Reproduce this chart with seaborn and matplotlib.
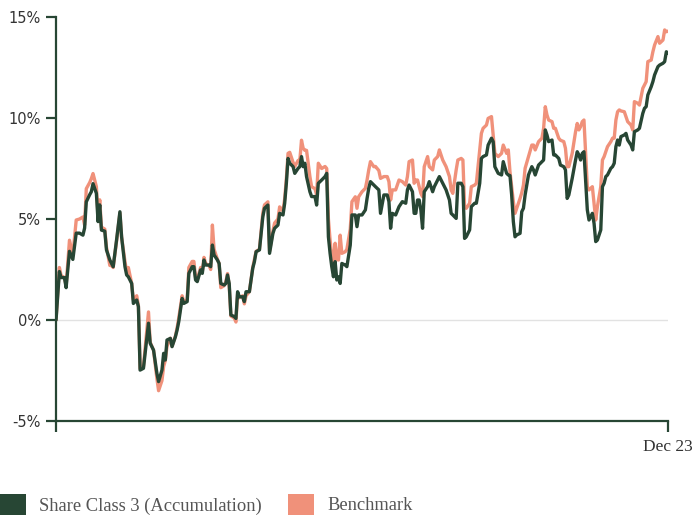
import matplotlib
matplotlib.use("Agg")
import matplotlib.pyplot as plt
from matplotlib.patches import Patch
import numpy as np
import pandas as pd
import seaborn as sns

# Cumulative performance (%) over 2023, sampled on calendar-day offsets from the start date
start_date = "2022-12-30"
day_offset = [
    0, 2, 3, 5, 6, 8, 10, 12, 14, 16, 17, 18, 20, 21, 22, 24, 25, 26, 27, 29,
    30, 32, 33, 34, 36, 38, 39, 41, 42, 43, 45, 46, 48, 49, 50, 52, 55, 56, 58, 60,
    61, 63, 64, 65, 66, 68, 69, 71, 72, 73, 75, 76, 78, 79, 81, 82, 83, 84, 86, 87,
    88, 89, 91, 92, 93, 94, 96, 97, 98, 100, 101, 102, 103, 104, 106, 107, 108, 109, 111, 112,
    113, 115, 117, 118, 119, 121, 123, 124, 126, 127, 129, 130, 132, 133, 135, 136, 137, 138, 139, 141,
    142, 144, 145, 146, 147, 148, 149, 151, 152, 154, 155, 156, 158, 160, 161, 162, 163, 164, 165, 166,
    167, 168, 169, 170, 172, 173, 175, 176, 178, 179, 180, 182, 184, 185, 186, 187, 189, 190, 191, 192,
    193, 195, 197, 198, 199, 200, 202, 204, 206, 208, 209, 210, 212, 213, 214, 215, 216, 217, 218, 219,
    221, 222, 224, 225, 227, 228, 230, 232, 234, 235, 236, 238, 239, 241, 242, 243, 244, 246, 247, 249,
    250, 252, 253, 254, 256, 257, 259, 260, 261, 263, 265, 266, 268, 269, 270, 271, 272, 273, 274, 276,
    277, 278, 279, 280, 281, 283, 284, 285, 287, 289, 290, 291, 292, 293, 295, 296, 297, 299, 300, 302,
    303, 304, 305, 307, 309, 310, 311, 312, 313, 314, 315, 316, 317, 319, 320, 321, 322, 324, 325, 326,
    327, 328, 330, 331, 332, 333, 334, 335, 336, 338, 339, 340, 342, 343, 344, 346, 347, 349, 350, 351,
    352, 354, 355, 356, 358, 359, 361, 362, 363, 364,
]
share_class = [
    0.00, 2.40, 2.10, 2.10, 1.60, 3.40, 3.00, 4.30, 4.30, 4.20, 4.55, 5.85, 6.20, 6.35, 6.75, 6.27, 4.87, 5.70, 4.45, 4.40,
    3.47, 2.97, 2.80, 2.64, 3.96, 5.36, 4.12, 2.64, 2.23, 2.14, 1.81, 0.82, 0.99, 0.66, -2.48, -2.39, -0.16, -1.15, -1.49, -2.64,
    -3.05, -2.48, -1.65, -1.98, -0.99, -0.91, -1.32, -0.83, -0.50, -0.08, 1.07, 0.82, 0.91, 2.31, 2.64, 2.64, 1.98, 1.90, 2.48, 2.31,
    2.97, 2.72, 2.72, 2.64, 3.71, 3.22, 2.97, 2.80, 1.81, 1.73, 1.81, 2.23, 1.81, 0.25, 0.17, 0.08, 1.40, 1.15, 1.15, 0.91,
    1.40, 1.40, 2.56, 2.89, 3.38, 3.47, 5.11, 5.53, 5.69, 3.30, 4.29, 4.54, 4.70, 5.28, 5.20, 5.78, 6.77, 8.00, 7.76, 7.59,
    7.26, 7.51, 7.59, 8.09, 7.59, 7.76, 7.10, 6.35, 6.11, 6.11, 5.69, 6.77, 6.93, 7.10, 7.26, 4.12, 3.30, 2.64, 2.14, 2.89,
    1.98, 2.14, 1.81, 2.80, 2.72, 2.64, 3.71, 5.20, 5.20, 4.62, 5.20, 5.20, 5.45, 6.02, 6.52, 6.85, 6.68, 6.60, 6.52, 6.44,
    5.28, 6.19, 6.19, 5.86, 4.54, 5.28, 5.20, 5.61, 5.86, 5.78, 6.44, 6.68, 6.35, 5.28, 5.28, 5.94, 5.94, 5.45, 4.54, 6.35,
    6.60, 6.85, 6.35, 6.60, 6.93, 7.10, 6.77, 6.44, 5.94, 5.28, 5.20, 5.03, 6.77, 6.77, 6.60, 4.04, 4.12, 4.46, 5.61, 5.78,
    5.78, 6.77, 8.00, 8.09, 8.17, 8.66, 9.00, 8.83, 7.59, 7.26, 7.18, 7.84, 7.26, 7.18, 7.15, 6.19, 4.87, 4.12, 4.21, 4.29,
    5.36, 5.53, 6.19, 6.68, 7.18, 7.59, 7.43, 7.18, 7.67, 7.84, 7.92, 9.41, 9.16, 8.83, 8.91, 8.17, 8.17, 8.00, 7.67, 7.59,
    7.43, 6.02, 6.19, 7.01, 7.92, 8.33, 8.17, 7.92, 8.25, 8.33, 6.93, 5.45, 4.95, 5.28, 4.79, 3.88, 3.96, 4.46, 6.60, 6.77,
    7.10, 7.18, 7.51, 7.59, 7.76, 8.58, 8.91, 8.66, 9.08, 9.16, 9.24, 8.91, 8.66, 8.42, 9.32, 9.41, 9.49, 10.23, 10.48, 10.56,
    11.14, 11.55, 11.80, 12.13, 12.54, 12.62, 12.71, 12.79, 13.28, 13.20,
]
benchmark = [
    0.00, 2.60, 2.20, 2.10, 1.70, 3.95, 3.20, 4.95, 5.00, 5.10, 4.70, 6.50, 6.80, 7.00, 7.25, 6.60, 5.10, 5.95, 4.60, 4.50,
    3.60, 2.70, 2.70, 2.60, 3.90, 5.30, 4.10, 2.90, 2.40, 2.60, 1.80, 1.00, 1.20, 0.70, -2.40, -2.30, 0.40, -1.10, -1.50, -2.90,
    -3.50, -3.00, -2.30, -2.00, -1.30, -0.90, -1.30, -0.80, -0.40, 0.10, 1.20, 0.90, 1.00, 2.60, 2.90, 2.90, 2.10, 2.00, 2.60, 2.40,
    3.10, 2.80, 2.70, 2.50, 4.70, 3.50, 3.00, 2.80, 1.60, 1.70, 1.90, 2.30, 1.70, 0.20, 0.10, -0.10, 1.30, 1.10, 1.20, 0.80,
    1.20, 1.40, 2.60, 3.00, 3.40, 3.50, 5.30, 5.70, 5.85, 3.40, 4.40, 4.80, 5.00, 5.60, 5.40, 6.00, 7.00, 8.25, 8.30, 7.80,
    7.60, 7.90, 7.90, 8.90, 8.50, 8.40, 8.40, 7.10, 6.60, 6.50, 6.20, 7.76, 7.50, 7.60, 7.50, 5.00, 3.96, 3.20, 2.80, 3.80,
    3.00, 2.97, 4.20, 3.30, 3.38, 3.50, 4.50, 5.86, 6.10, 5.53, 6.10, 6.35, 6.52, 6.93, 7.43, 7.84, 7.59, 7.60, 7.50, 7.40,
    7.01, 7.10, 7.10, 6.85, 5.94, 6.44, 6.44, 6.93, 6.85, 6.68, 7.10, 7.84, 7.92, 6.77, 6.93, 6.93, 6.60, 6.27, 6.11, 7.59,
    8.09, 7.59, 7.43, 7.92, 8.09, 8.42, 7.92, 7.59, 7.10, 6.44, 6.27, 7.43, 7.92, 8.00, 7.92, 5.61, 5.53, 5.78, 6.60, 6.68,
    6.77, 8.42, 9.24, 9.49, 9.65, 9.98, 10.07, 9.16, 8.25, 8.09, 8.25, 8.66, 8.25, 8.42, 7.34, 6.60, 5.86, 5.28, 5.53, 6.02,
    6.30, 6.68, 7.51, 7.80, 8.09, 8.66, 8.66, 8.42, 8.83, 9.00, 9.49, 10.56, 10.15, 9.90, 9.82, 9.49, 9.49, 9.00, 8.90, 8.83,
    8.50, 7.59, 7.59, 8.25, 9.32, 9.73, 9.41, 9.57, 9.82, 9.90, 8.25, 6.60, 6.44, 6.60, 5.78, 4.95, 5.61, 6.60, 7.92, 8.09,
    8.33, 8.58, 8.83, 9.00, 9.00, 9.90, 10.31, 10.40, 10.35, 10.31, 10.07, 9.82, 9.65, 9.41, 10.81, 10.73, 10.64, 11.47, 11.63, 11.80,
    12.79, 12.87, 13.28, 13.61, 14.03, 13.70, 13.86, 14.36, 14.27, 14.30,
]

series_names = ["Share Class 3 (Accumulation)", "Benchmark"]
series_colors = ["#274634", "#f0917a"]
y_ticks = [-5, 0, 5, 10, 15]
x_tick_labels = ["", "Dec 23"]

dates = pd.Timestamp(start_date) + pd.to_timedelta(day_offset, unit="D")
df = pd.concat([
    pd.DataFrame({"date": dates, "return": share_class, "series": series_names[0]}),
    pd.DataFrame({"date": dates, "return": benchmark, "series": series_names[1]}),
])

sns.set_theme(style="white")
plt.rcParams["font.family"] = ["DejaVu Sans"]

fig = plt.figure(figsize=(6.96, 5.15), dpi=100)
ax = fig.add_axes([0.0805, 0.1825, 0.8793, 0.7845])

# benchmark first so the fund line sits on top
sns.lineplot(
    data=df, x="date", y="return", hue="series",
    hue_order=[series_names[1], series_names[0]],
    palette={series_names[0]: series_colors[0], series_names[1]: series_colors[1]},
    linewidth=2.4, legend=False, ax=ax,
)

ax.axhline(0, color="#e2e2e2", linewidth=1.0, zorder=0)

ax.set_ylim(-5, 15)
ax.set_xlim(dates[0], dates[-1])
ax.set_yticks(y_ticks)
ax.set_yticklabels([f"{v}%" for v in y_ticks], fontsize=10.5, color="#333333")
ax.set_xticks([dates[0], dates[-1]])
ax.set_xticklabels(x_tick_labels, fontsize=12.5, color="#333333", family="Liberation Serif")
ax.set_xlabel("")
ax.set_ylabel("")

for side in ["top", "right"]:
    ax.spines[side].set_visible(False)
for side in ["left", "bottom"]:
    ax.spines[side].set_color(series_colors[0])
    ax.spines[side].set_linewidth(1.6)
ax.tick_params(axis="y", length=7, width=1.6, color=series_colors[0], pad=4, left=True)
ax.tick_params(axis="x", length=8, width=1.6, color=series_colors[0], pad=5, bottom=True)

handles = [Patch(facecolor=c, edgecolor="none") for c in series_colors]
fig.legend(
    handles, series_names, loc="lower left", bbox_to_anchor=(0.0, 0.0), ncol=2,
    frameon=False, borderaxespad=0.0, borderpad=0.0,
    handlelength=1.4, handleheight=1.4, handletextpad=0.7, columnspacing=1.45,
    prop={"family": "Liberation Serif", "size": 13.3}, labelcolor="#555555",
)

fig.savefig("out.png", dpi=100)
